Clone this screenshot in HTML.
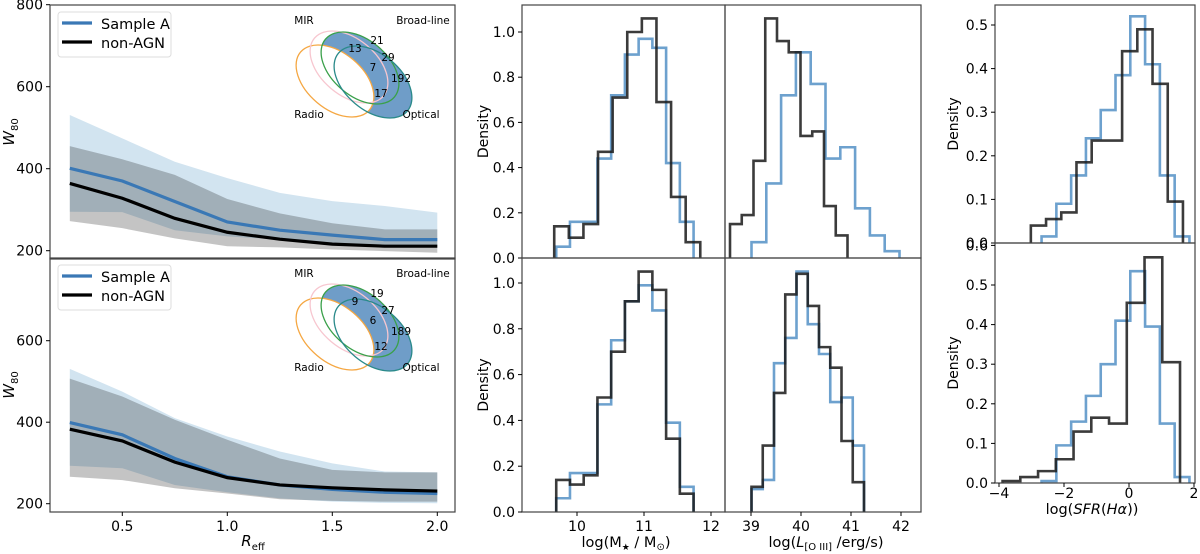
<!DOCTYPE html>
<html><head><meta charset="utf-8"><style>
html,body{margin:0;padding:0;background:#fff;width:1200px;height:554px;overflow:hidden}
svg{display:block;font-family:"DejaVu Sans","Liberation Sans",sans-serif}
</style></head><body>
<svg id="fig" width="1200" height="554" viewBox="0 0 1200 554" xmlns="http://www.w3.org/2000/svg"></svg>
<script>
// ---------- W80 profiles ----------
const reffX = [0.25,0.5,0.75,1.0,1.25,1.5,1.75,2.0];
const topBlueMed = [401,370,320,270,250,238,227,227];
const topBlackMed = [364,328,279,245,228,216,211,211];
const topBlueUp = [531,474,417,377,341,321,309,293];
const topBlueLo = [295,294,250,235,227,219,211,211];
const topGrayUp = [455,423,385,326,291,267,252,252];
const topGrayLo = [272,255,230,211,208,203,199,195];
const botBlueMed = [399,369,311,266,246,235,228,225];
const botBlackMed = [383,354,302,264,246,239,234,231];
const botBlueUp = [531,475,410,365,328,299,279,277];
const botBlueLo = [293,287,246,228,213,205,202,201];
const botGrayUp = [507,463,406,357,311,283,277,277];
const botGrayLo = [266,258,238,225,211,207,205,205];
const w80TicksTop = [200,400,600,800];
const w80TicksBot = [200,400,600];
const reffTicks = [0.5,1.0,1.5,2.0];
// ---------- histograms (bin start, bin width, heights) ----------
const massTopBlackStart=9.66, massTopBlackW=0.218;
const massTopBlack=[0.14,0.09,0.15,0.47,0.71,1.0,1.06,0.69,0.27,0.07];
const massTopBlueStart=9.69, massTopBlueW=0.205;
const massTopBlue=[0.05,0.16,0.16,0.44,0.72,0.90,0.97,0.93,0.42,0.16];
const oiiiTopBlackStart=38.58, oiiiTopBlackW=0.235;
const oiiiTopBlack=[0.15,0.19,0.43,1.06,0.96,0.91,0.54,0.56,0.23,0.10];
const oiiiTopBlueStart=39.01, oiiiTopBlueW=0.296;
const oiiiTopBlue=[0.07,0.33,0.72,0.91,0.77,0.44,0.49,0.22,0.10,0.03];
const massBotBlackStart=9.69, massBotBlackW=0.205;
const massBotBlack=[0.14,0.12,0.16,0.50,0.70,0.92,1.05,0.97,0.32,0.08];
const massBotBlueStart=9.69, massBotBlueW=0.205;
const massBotBlue=[0.06,0.17,0.17,0.47,0.75,0.92,0.99,0.88,0.39,0.11];
const oiiiBotBlackStart=39.01, oiiiBotBlackW=0.225;
const oiiiBotBlack=[0.11,0.29,0.52,0.95,1.04,0.90,0.72,0.63,0.31,0.13];
const oiiiBotBlueStart=39.01, oiiiBotBlueW=0.225;
const oiiiBotBlue=[0.10,0.14,0.65,0.76,1.05,0.82,0.69,0.48,0.50,0.29];
const sfrTopBlackStart=-3.02, sfrTopBlackW=0.468;
const sfrTopBlack=[0.04,0.055,0.07,0.185,0.235,0.235,0.44,0.49,0.365,0.095];
const sfrTopBlueStart=-2.69, sfrTopBlueW=0.455;
const sfrTopBlue=[0.015,0.09,0.155,0.24,0.305,0.385,0.52,0.41,0.155,0.015];
const sfrBotBlackStart=-3.89, sfrBotBlackW=0.546;
const sfrBotBlack=[0.005,0.015,0.03,0.06,0.13,0.165,0.15,0.455,0.57,0.305];
const sfrBotBlueStart=-2.69, sfrBotBlueW=0.455;
const sfrBotBlue=[0.005,0.095,0.155,0.22,0.30,0.41,0.535,0.395,0.15,0.015];
const densTicksMid=[0.0,0.2,0.4,0.6,0.8,1.0];
const densTicksSfrTop=[0.0,0.1,0.2,0.3,0.4,0.5];
const densTicksSfrBot=[0.0,0.1,0.2,0.3,0.4,0.5,0.6];
const massTicks=[10,11,12];
const oiiiTicks=[39,40,41,42];
const sfrTicks=[-4,-2,0,2];
const vennTop=['13','21','29','7','192','17'];
const vennBot=['9','19','27','6','189','12'];

const NS='http://www.w3.org/2000/svg';
const fig=document.getElementById('fig');
function E(tag,attrs,parent){const e=document.createElementNS(NS,tag);for(const k in attrs)e.setAttribute(k,attrs[k]);(parent||fig).appendChild(e);return e;}
function T(txt,x,y,anchor,size,parent,extra){const t=E('text',Object.assign({x:x,y:y,'text-anchor':anchor,'font-size':size,fill:'#000'},extra||{}),parent);t.textContent=txt;return t;}

// axis scales
const lx=v=>122.3+(v-0.5)*210;
const ly1=v=>250.7-(v-200)*0.41;
const ly2=v=>503.7-(v-200)*0.4075;
const mx=v=>577+(v-10)*67;
const ox=v=>751+(v-39)*50;
const my1=v=>258-v*226;
const my2=v=>512-v*229;
const sx=v=>1129+v*32.5;
const sy1=v=>243-v*436;
const sy2=v=>483-v*396;

function band(up,lo,xs,ys,fill,name,g){
  let d='M'+reffX.map((x,i)=>xs(x)+','+ys(up[i])).join('L');
  for(let i=reffX.length-1;i>=0;i--)d+='L'+xs(reffX[i])+','+ys(lo[i]);
  const p=E('path',{d:d+'Z',fill:fill,stroke:'none'},g);
  
  
}
function line(vals,xs,ys,col,name,g){
  const p=E('polyline',{points:reffX.map((x,i)=>xs(x)+','+ys(vals[i])).join(' '),fill:'none',stroke:col,'stroke-width':3.2},g);
  
  
}
function hist(start,w,h,xs,ys,col,name,g){
  let d='M'+xs(start)+','+ys(0);
  h.forEach((v,i)=>{d+='V'+ys(v)+'H'+xs(start+(i+1)*w);});
  d+='V'+ys(0);
  const p=E('path',{d:d,fill:'none',stroke:col,'stroke-width':2.6,'stroke-linejoin':'miter'},g);
  
  
}
function yticks(ticks,ys,x0,g,fmt,name){
  ticks.forEach(t=>{
    E('line',{x1:x0-4,x2:x0,y1:ys(t),y2:ys(t),stroke:'#000','stroke-width':1},g);
    const tx=T(fmt(t),x0-7,ys(t)+5,'end',14,g);
    
    
  });
}
function xticks(ticks,xs,y0,g,fmt,name,off){
  ticks.forEach(t=>{
    E('line',{x1:xs(t),x2:xs(t),y1:y0,y2:y0+4,stroke:'#000','stroke-width':1},g);
    const tx=T(fmt(t),xs(t),y0+(off||19),'middle',14,g);
    
    
  });
}
function frame(x,y,w,h,g,name){
  const r=E('rect',{x:x,y:y,width:w,height:h,fill:'none',stroke:'#444','stroke-width':1.2},g);
  
  
}

// ---------- left panels ----------
function leftPanel(top,ys,data,venn,ticks,idx){
  const g=E('g',{});
  
  
  const cp=E('clipPath',{id:'cl'+idx},g);E('rect',{x:50,y:top,width:405,height:254},cp);
  const pg=E('g',{'clip-path':'url(#cl'+idx+')'},g);
  band(data.bu,data.bl,lx,ys,'rgb(210,228,240)','sample-a-band',pg);
  band(data.gu,data.gl,lx,ys,'rgba(0,0,0,0.23)','non-agn-band',pg);
  line(data.bm,lx,ys,'#3a78b5','sample-a-line',pg);
  line(data.km,lx,ys,'#000','non-agn-line',pg);
  frame(50,top,405,254,g,'w80-axes-frame');
  yticks(ticks,ys,50,g,t=>String(t),'w80-tick-label');
  // legend
  const lg=E('g',{},g);
  
  
  E('rect',{x:58,y:top+7,width:113,height:45,rx:3,fill:'#fff',stroke:'#ddd'},lg);
  E('line',{x1:62,x2:92,y1:top+18,y2:top+18,stroke:'#3a78b5','stroke-width':3.2},lg);
  E('line',{x1:62,x2:92,y1:top+37,y2:top+37,stroke:'#000','stroke-width':3.2},lg);
  const l1=T('Sample A',101,top+24,'start',14.5,lg);
  
  
  const l2=T('non-AGN',101,top+43,'start',14.5,lg);
  
  
  // venn
  const vg=E('g',{},g);
  
  
  const o=top-5;
  const ell=(cx,cy)=>({cx:cx,cy:cy+o,rx:45,ry:28,transform:'rotate(40 '+cx+' '+(cy+o)+')'});
  const m=E('mask',{id:'vm'+idx},vg);
  E('rect',{x:280,y:o,width:180,height:130,fill:'#fff'},m);
  E('ellipse',Object.assign(ell(335,81),{fill:'#000'}),m);
  const fg=E('g',{mask:'url(#vm'+idx+')'},vg);
  E('ellipse',Object.assign(ell(360,68),{fill:'#6f9dc8'}),fg);
  E('ellipse',Object.assign(ell(373,82),{fill:'#6f9dc8'}),fg);
  const names=[['radio-set',335,81,'#f5a742'],['mir-set',349,67,'#f7c6cf'],['broad-line-set',360,68,'#3aa04a'],['optical-set',373,82,'#2a8a8a']];
  names.forEach(n=>{const e=E('ellipse',Object.assign(ell(n[1],n[2]),{fill:'none',stroke:n[3],'stroke-width':1.3}),vg);
    
    });
  [['MIR',304,24],['Broad-line',423,24],['Radio',309,118],['Optical',421,118]].forEach(s=>{
    const t=T(s[0],s[1],s[2]+o,'middle',10.5,vg);
    
    });
  const pos=[[355,52],[377,44],[388,61],[373,71],[401,82],[381,97]];
  venn.forEach((v,i)=>{const t=T(v,pos[i][0],pos[i][1]+o,'middle',10.5,vg);
    
    });
  const yl=T('',14,top+127,'middle',15,g,{transform:'rotate(-90 14 '+(top+127)+')'});
  yl.innerHTML='<tspan font-style="italic">W</tspan><tspan font-size="10" dy="4">80</tspan>';
  
  
  return g;
}
leftPanel(5,ly1,{bu:topBlueUp,bl:topBlueLo,gu:topGrayUp,gl:topGrayLo,bm:topBlueMed,km:topBlackMed},vennTop,w80TicksTop,1);
const gb=leftPanel(258,ly2,{bu:botBlueUp,bl:botBlueLo,gu:botGrayUp,gl:botGrayLo,bm:botBlueMed,km:botBlackMed},vennBot,w80TicksBot,2);
xticks(reffTicks,lx,512,gb,t=>t.toFixed(1),'reff-tick-label');
const rl=T('',253,546,'middle',15,gb);
rl.innerHTML='<tspan font-style="italic">R</tspan><tspan font-size="10" dy="4">eff</tspan>';



// ---------- middle panels ----------
const BL='rgba(60,130,190,0.75)', BK='rgba(25,25,25,0.85)';
function mid(top,bot,ys,mb,ms,mw,mk,mks,mkw,ob,os,ow,ok,oks,okw,idx,lab){
  const g=E('g',{});
  
  
  hist(ms,mw,mb,mx,ys,BL,'mass-hist-sample-a',g);
  hist(mks,mkw,mk,mx,ys,BK,'mass-hist-non-agn',g);
  hist(os,ow,ob,ox,ys,BL,'oiii-hist-sample-a',g);
  hist(oks,okw,ok,ox,ys,BK,'oiii-hist-non-agn',g);
  frame(522,top,203,bot-top,g,'mass-axes-frame');
  frame(725,top,196,bot-top,g,'oiii-axes-frame');
  yticks(densTicksMid,ys,522,g,t=>t.toFixed(1),'density-tick-label');
  const d=T('Density',488,(top+bot)/2,'middle',14,g,{transform:'rotate(-90 488 '+((top+bot)/2)+')'});
  
  
  if(lab){
    xticks(massTicks,mx,bot,g,t=>String(t),'mass-tick-label');
    xticks(oiiiTicks,ox,bot,g,t=>String(t),'oiii-tick-label');
    const a=T('',626,547,'middle',14.5,g);
    a.innerHTML='log(M<tspan font-size="9" dy="3">\u2605</tspan><tspan dy="-3"> / M</tspan><tspan font-size="10" dy="3">\u2299</tspan><tspan dy="-3">)</tspan>';
    
    
    const b=T('',826,547,'middle',14.5,g);
    b.innerHTML='log(<tspan font-style="italic">L</tspan><tspan font-size="10" dy="3">[O III]</tspan><tspan dy="-3"> /erg/s)</tspan>';
    
    
  }
}
mid(5,258,my1,massTopBlue,massTopBlueStart,massTopBlueW,massTopBlack,massTopBlackStart,massTopBlackW,oiiiTopBlue,oiiiTopBlueStart,oiiiTopBlueW,oiiiTopBlack,oiiiTopBlackStart,oiiiTopBlackW,1,false);
mid(258,512,my2,massBotBlue,massBotBlueStart,massBotBlueW,massBotBlack,massBotBlackStart,massBotBlackW,oiiiBotBlue,oiiiBotBlueStart,oiiiBotBlueW,oiiiBotBlack,oiiiBotBlackStart,oiiiBotBlackW,2,true);

// ---------- right panels ----------
function sfr(top,bot,ys,b,bs,bw,k,ks,kw,ticks,idx,lab){
  const g=E('g',{});
  
  
  hist(bs,bw,b,sx,ys,BL,'sfr-hist-sample-a',g);
  hist(ks,kw,k,sx,ys,BK,'sfr-hist-non-agn',g);
  frame(995,top,200,bot-top,g,'sfr-axes-frame');
  yticks(ticks,ys,995,g,t=>t.toFixed(1),'density-tick-label');
  const d=T('Density',958,(top+bot)/2,'middle',14,g,{transform:'rotate(-90 958 '+((top+bot)/2)+')'});
  
  
  if(lab){
    xticks(sfrTicks,sx,bot,g,t=>(t<0?'\u2212'+(-t):String(t)),'sfr-tick-label',15);
    const a=T('',1092,514,'middle',14.5,g);
    a.innerHTML='log(<tspan font-style="italic">SFR</tspan>(<tspan font-style="italic">H\u03b1</tspan>))';
    
    
  }
}
sfr(5,243,sy1,sfrTopBlue,sfrTopBlueStart,sfrTopBlueW,sfrTopBlack,sfrTopBlackStart,sfrTopBlackW,densTicksSfrTop,1,false);
sfr(243,483,sy2,sfrBotBlue,sfrBotBlueStart,sfrBotBlueW,sfrBotBlack,sfrBotBlackStart,sfrBotBlackW,densTicksSfrBot,2,true);
</script>
</body></html>
